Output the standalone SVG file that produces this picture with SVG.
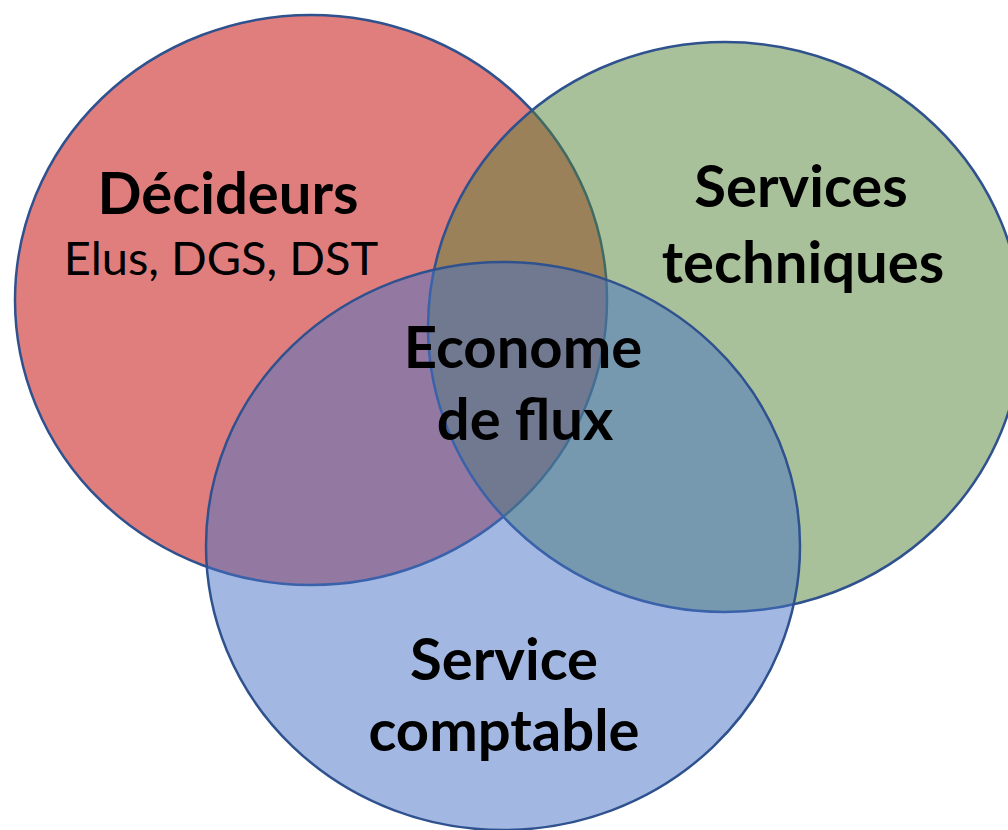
<svg xmlns="http://www.w3.org/2000/svg" width="1008" height="830" viewBox="0 0 1008 830">
  <style>
    .c { stroke: #2F528F; stroke-width: 2.5; }
    .t { font-family: Lato, "Liberation Sans", sans-serif; font-weight: bold; font-size: 58px; fill: #000; text-anchor: middle; }
    .s { font-family: Lato, "Liberation Sans", sans-serif; font-weight: normal; font-size: 47px; fill: #000; text-anchor: middle; }
  </style>
  <rect width="1008" height="830" fill="#FFFFFF"/>
  <g id="decideurs">
    <ellipse class="c" cx="311" cy="300" rx="296" ry="285" fill="#E07E7E"/>
  </g>
  <g id="services-techniques">
    <ellipse class="c" cx="725" cy="327" rx="297" ry="285" fill="#538335" fill-opacity="0.5"/>
  </g>
  <g id="service-comptable">
    <ellipse class="c" cx="503" cy="546" rx="297" ry="284" fill="#4571C5" fill-opacity="0.5"/>
  </g>
  <g id="labels">
    <text class="t" x="228" y="214">Décideurs</text>
    <text class="s" x="221" y="275">Elus, DGS, DST</text>
    <text class="t" x="801" y="207">Services</text>
    <text class="t" x="803" y="283">techniques</text>
    <text class="t" x="523" y="368">Econome</text>
    <text class="t" x="525" y="440">de flux</text>
    <text class="t" x="504" y="680">Service</text>
    <text class="t" x="504" y="751">comptable</text>
  </g>
  <g id="connectors"/>
</svg>
